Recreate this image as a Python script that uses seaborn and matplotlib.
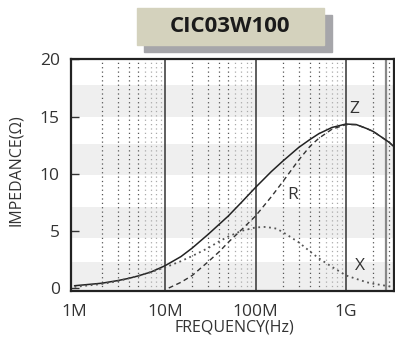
import numpy as np
import pandas as pd
import seaborn as sns
import matplotlib.pyplot as plt
from matplotlib.patches import Rectangle

# Data (frequency in Hz, impedance in ohm)
freq_z = [1e6, 2e6, 3e6, 4e6, 5e6, 7e6, 10e6, 15e6, 20e6, 30e6, 40e6, 50e6, 70e6,
          100e6, 150e6, 200e6, 300e6, 400e6, 500e6, 700e6, 1e9, 1.3e9, 1.7e9,
          2e9, 3e9, 3.4e9]
z_vals = [0.2, 0.42, 0.65, 0.85, 1.05, 1.4, 1.95, 2.75, 3.5, 4.7, 5.6, 6.3, 7.5,
          8.8, 10.2, 11.1, 12.3, 13.0, 13.5, 14.05, 14.35, 14.3, 13.95,
          13.7, 12.75, 12.35]

freq_r = [11e6, 15e6, 20e6, 30e6, 40e6, 50e6, 70e6, 100e6, 150e6, 200e6,
          300e6, 400e6, 500e6, 700e6, 1e9, 1.3e9, 1.7e9, 2e9, 3e9, 3.4e9]
r_vals = [0.0, 0.5, 1.1, 2.3, 3.2, 4.0, 5.1, 6.3, 8.0, 9.3,
          11.2, 12.4, 13.1, 13.9, 14.3, 14.3, 13.95, 13.7, 12.75, 12.35]

freq_x = [1e6, 2e6, 3e6, 5e6, 7e6, 10e6, 15e6, 20e6, 30e6, 40e6, 50e6, 70e6,
          100e6, 130e6, 170e6, 200e6, 300e6, 400e6, 500e6, 700e6, 1e9, 1.3e9,
          1.7e9, 2e9, 3e9, 3.4e9]
x_vals = [0.1, 0.35, 0.6, 1.05, 1.4, 1.8, 2.35, 2.8, 3.5, 4.1, 4.5, 5.0,
          5.3, 5.35, 5.2, 4.9, 4.0, 3.2, 2.6, 1.85, 1.1, 0.8,
          0.5, 0.38, 0.15, 0.1]

xtick_vals = [1e6, 1e7, 1e8, 1e9]
xtick_labels = ["1M", "10M", "100M", "1G"]
ytick_vals = [0, 5, 10, 15, 20]

sns.set_style("white")
plt.rcParams["font.family"] = ["Open Sans", "DejaVu Sans"]
txt = "#333333"

fig = plt.figure(figsize=(3.95, 3.47), dpi=100)
ax = fig.add_axes([71 / 395, 56 / 347, 323 / 395, 232 / 347])
ax.set_xscale("log")
ax.set_xlim(0.915e6, 3.39e9)
ax.set_ylim(-0.26, 20.04)

# light horizontal bands
for lo, hi in [(-0.3, 2.3), (4.4, 7.1), (9.9, 12.6), (15.0, 17.8)]:
    ax.axhspan(lo, hi, color="#efefef", lw=0, zorder=0)

# vertical grid: dotted minors, solid decades
for dec in [1e6, 1e7, 1e8, 1e9]:
    for m in range(2, 10):
        f = dec * m
        if f > 3.39e9:
            continue
        c = "#555555" if m <= 5 else "#aaaaaa"
        ax.axvline(f, color=c, lw=0.9, ls=(0, (1, 2.5)), zorder=1)
    if dec > 1e6:
        ax.axvline(dec, color="#333333", lw=1.1, zorder=1)
ax.axvline(2.77e9, color="#888888", lw=1.6, zorder=1)

sns.lineplot(x=freq_z, y=z_vals, ax=ax, color="#222222", lw=1.1, zorder=3)
sns.lineplot(x=freq_r, y=r_vals, ax=ax, color="#333333", lw=1.0,
             linestyle=(0, (3.5, 2.5)), zorder=3)
sns.lineplot(x=freq_x, y=x_vals, ax=ax, color="#555555", lw=1.3,
             linestyle=(0, (1, 2)), zorder=3)

ax.text(1.25e9, 15.7, "Z", fontsize=12.5, color=txt, ha="center", va="center")
ax.text(2.6e8, 8.1, "R", fontsize=12.5, color=txt, ha="center", va="center")
ax.text(1.43e9, 1.9, "X", fontsize=12.5, color=txt, ha="center", va="center")

ax.set_xticks(xtick_vals)
ax.set_xticklabels(xtick_labels)
ax.minorticks_off()
ax.set_yticks(ytick_vals)
ax.tick_params(axis="x", length=0, pad=9, labelsize=12.5, labelcolor=txt)
ax.tick_params(axis="y", direction="in", length=6, width=1, color="#333333",
               pad=8, labelsize=12.5, labelcolor=txt, left=True)

for s in ax.spines.values():
    s.set_color("#222222")
    s.set_linewidth(1.6)
    s.set_visible(True)

ax.set_xlabel("FREQUENCY(Hz)", fontsize=11.5, color=txt)
ax.set_ylabel("IMPEDANCE(Ω)", fontsize=11.5, color=txt)
ax.xaxis.set_label_coords(0.505, -0.125)
ax.yaxis.set_label_coords(-0.145, 0.52)

# title box with shadow
fig.patches.append(Rectangle((144 / 395, 1 - 52 / 347), 188 / 395, 37 / 347,
                             transform=fig.transFigure, color="#a6a6aa", zorder=0))
fig.patches.append(Rectangle((137 / 395, 1 - 45 / 347), 187 / 395, 37 / 347,
                             transform=fig.transFigure, color="#d4d2bd", zorder=1))
fig.text(230 / 395, 1 - 27 / 347, "CIC03W100", fontsize=16, fontweight="bold",
         color="#1a1a1a", ha="center", va="center")

fig.savefig("out.png", dpi=100)
